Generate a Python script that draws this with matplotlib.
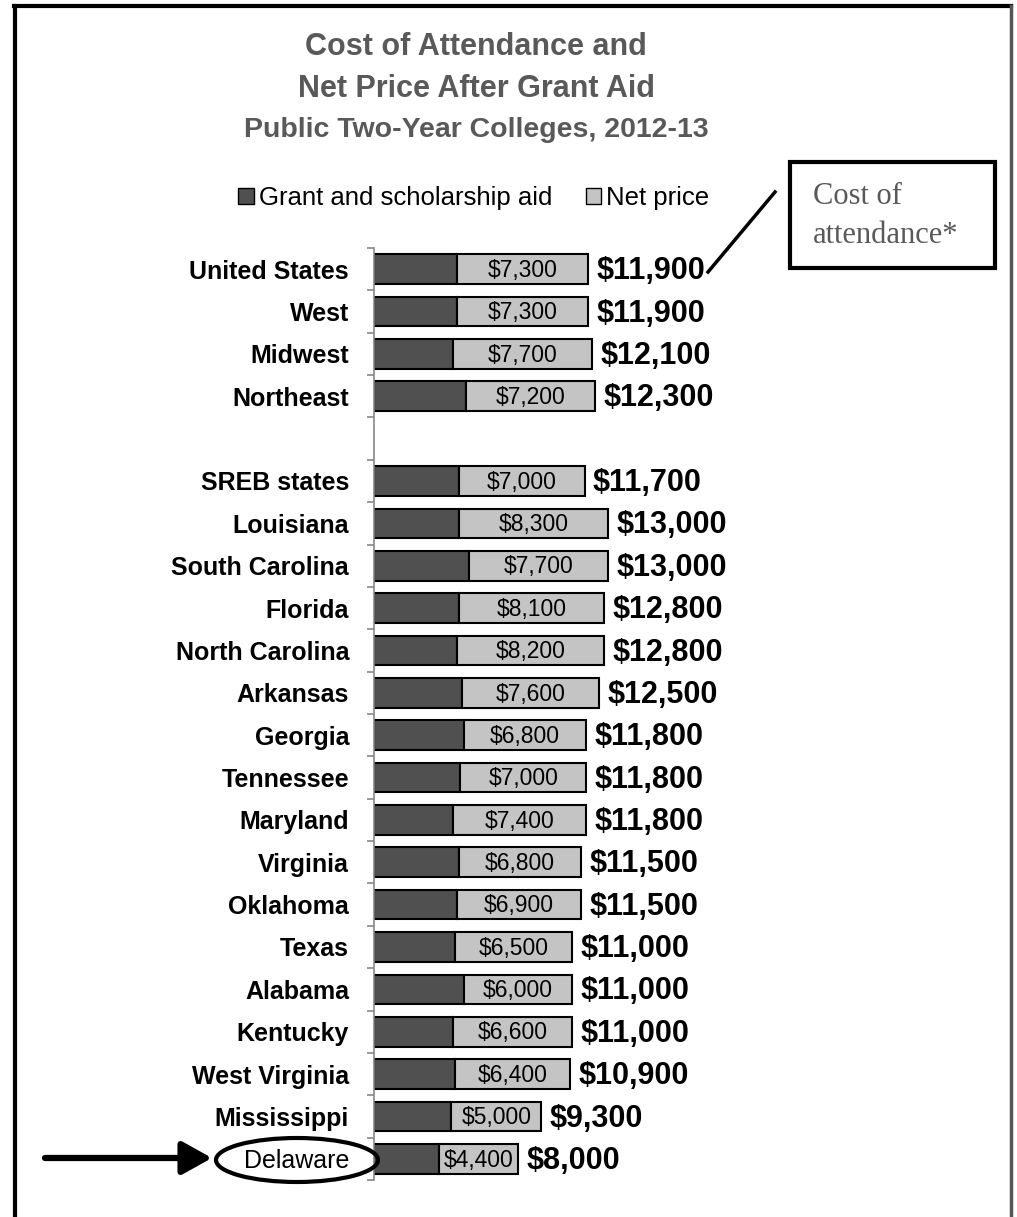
import numpy as np
import matplotlib
matplotlib.use("Agg")
import matplotlib.pyplot as plt
from matplotlib.patches import Rectangle, Ellipse, Patch
from matplotlib.lines import Line2D

regions = ["United States", "West", "Midwest", "Northeast", "",
           "SREB states", "Louisiana", "South Carolina", "Florida",
           "North Carolina", "Arkansas", "Georgia", "Tennessee", "Maryland",
           "Virginia", "Oklahoma", "Texas", "Alabama", "Kentucky",
           "West Virginia", "Mississippi", "Delaware"]
total = [11900, 11900, 12100, 12300, np.nan, 11700, 13000, 13000, 12800,
         12800, 12500, 11800, 11800, 11800, 11500, 11500, 11000, 11000,
         11000, 10900, 9300, 8000]
net = [7300, 7300, 7700, 7200, np.nan, 7000, 8300, 7700, 8100, 8200, 7600,
       6800, 7000, 7400, 6800, 6900, 6500, 6000, 6600, 6400, 5000, 4400]

total = np.array(total, dtype=float)
net = np.array(net, dtype=float)
grant = total - net

W, H = 1017, 1217
plt.rcParams['font.family'] = ['Liberation Sans Narrow', 'Liberation Sans', 'DejaVu Sans']


def fx(x):
    return x / W


def fy(y):
    return 1 - y / H


fig = plt.figure(figsize=(W / 100, H / 100), dpi=100)
# axes spans pixel x 374..794, y 248..1180
ax = fig.add_axes([fx(374), fy(1180), fx(794) - fx(374), fy(248) - fy(1180)])

ypos = np.arange(len(regions))
dark = '#505050'
light = '#c4c4c4'
ax.barh(ypos, grant, height=0.7, color=dark, edgecolor='black', linewidth=1.5)
ax.barh(ypos, net, left=grant, height=0.7, color=light, edgecolor='black', linewidth=1.5)

for i in range(len(regions)):
    if np.isnan(total[i]):
        continue
    ax.text(grant[i] + net[i] / 2, ypos[i] + 0.03, "${:,.0f}".format(net[i]),
            ha='center', va='center', fontsize=16.5)
    ax.annotate("${:,.0f}".format(total[i]), xy=(total[i], ypos[i] + 0.05),
                xytext=(6, 0), textcoords='offset points', ha='left', va='center',
                fontsize=22, fontweight='bold')

ax.set_xlim(0, 420 / 0.018)
ax.set_ylim(len(regions) - 0.5, -0.5)
ax.set_yticks(ypos)
ax.set_yticklabels(regions, fontsize=18, fontweight='bold')
ax.get_yticklabels()[-1].set_fontweight('medium')
ax.set_yticks(np.arange(len(regions) + 1) - 0.5, minor=True)
ax.tick_params(axis='y', which='major', length=0, pad=18)
ax.tick_params(axis='y', which='minor', length=5, color='#888888', width=1.2)
ax.set_xticks([])
for s in ['top', 'right', 'bottom']:
    ax.spines[s].set_visible(False)
ax.spines['left'].set_color('#888888')
ax.spines['left'].set_linewidth(1.2)

# title
title_col = '#595959'
fig.text(fx(476), fy(47), "Cost of Attendance and", ha='center', va='center',
         fontsize=22, fontweight='bold', color=title_col, family='Liberation Sans')
fig.text(fx(476), fy(89), "Net Price After Grant Aid", ha='center', va='center',
         fontsize=22, fontweight='bold', color=title_col, family='Liberation Sans')
fig.text(fx(476), fy(130), "Public Two-Year Colleges, 2012-13", ha='center', va='center',
         fontsize=20.5, fontweight='bold', color=title_col, family='Liberation Sans')

# legend
handles = [Patch(facecolor=dark, edgecolor='black'), Patch(facecolor=light, edgecolor='black')]
fig.legend(handles, ["Grant and scholarship aid", "Net price"], loc='center',
           bbox_to_anchor=(fx(474), fy(198)), ncol=2, frameon=False,
           prop={'family': 'Liberation Sans', 'size': 18.5},
           handlelength=0.6, handleheight=0.6, handletextpad=0.2, columnspacing=1.3)

# annotation box
fig.add_artist(Rectangle((fx(790), fy(268)), fx(995) - fx(790), fy(162) - fy(268),
                         transform=fig.transFigure, fill=False, edgecolor='black', linewidth=3))
fig.text(fx(813), fy(197), "Cost of", ha='left', va='center', fontsize=22,
         color=title_col, family='Liberation Serif')
fig.text(fx(813), fy(236), "attendance*", ha='left', va='center', fontsize=22,
         color=title_col, family='Liberation Serif')
fig.add_artist(Line2D([fx(708), fx(775)], [fy(272), fy(192)], transform=fig.transFigure,
                      color='black', linewidth=2.5))

# arrow and ellipse around Delaware
fig.add_artist(Ellipse((fx(297), fy(1160)), 162 / W, 44 / H, transform=fig.transFigure,
                       fill=False, edgecolor='black', linewidth=3))
ax.annotate("", xy=(fx(212), fy(1158)), xytext=(fx(45), fy(1158)),
            xycoords='figure fraction', textcoords='figure fraction',
            arrowprops=dict(arrowstyle='-|>,head_length=1.8,head_width=1.0',
                            color='black', linewidth=4.5, shrinkA=0, shrinkB=0))

# page border
fig.add_artist(Line2D([fx(15), fx(15)], [fy(6), 0], transform=fig.transFigure, color='black', linewidth=3))
fig.add_artist(Line2D([fx(14), fx(1011)], [fy(6), fy(6)], transform=fig.transFigure, color='black', linewidth=3))
fig.add_artist(Line2D([fx(1011), fx(1011)], [fy(6), 0], transform=fig.transFigure, color='#555555', linewidth=2.5))

fig.savefig("out.png", dpi=100)
